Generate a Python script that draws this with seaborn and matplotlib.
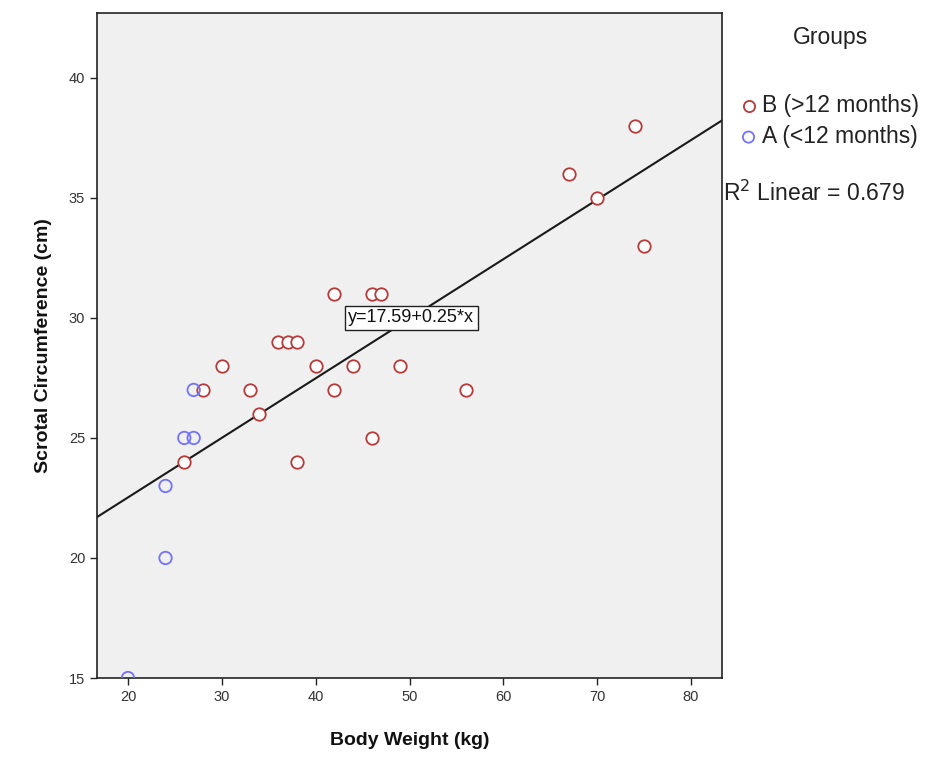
import numpy as np
import pandas as pd
import matplotlib
matplotlib.use("Agg")
import matplotlib.pyplot as plt
import seaborn as sns

# ---- data ----
b_weight = [26, 28, 30, 33, 34, 36, 37, 38, 38, 40, 42, 42, 44, 46, 47, 46, 49, 56, 67, 70, 74, 75]
b_scrotal = [24, 27, 28, 27, 26, 29, 29, 29, 24, 28, 31, 27, 28, 31, 31, 25, 28, 27, 36, 35, 38, 33]
a_weight = [20, 24, 24, 26, 27, 27]
a_scrotal = [15, 20, 23, 25, 25, 27]
group_b = "B (>12 months)"
group_a = "A (<12 months)"
equation_label = "y=17.59+0.25*x"
r2_label = "R$^2$ Linear = 0.679"
x_ticks = [20, 30, 40, 50, 60, 70, 80]
y_ticks = [15, 20, 25, 30, 35, 40]

df = pd.DataFrame({
    "weight": b_weight + a_weight,
    "scrotal": b_scrotal + a_scrotal,
    "group": [group_b] * len(b_weight) + [group_a] * len(a_weight),
})

sns.set_theme(style="white")
plt.rcParams["font.family"] = ["Liberation Sans", "DejaVu Sans"]

fig = plt.figure(figsize=(9.53, 7.65), dpi=100)
ax = fig.add_axes([0.1018, 0.1137, 0.6558, 0.8693])
ax.set_facecolor("#f0f0f0")
ax.set_xlim(16.7, 83.3)
ax.set_ylim(15, 42.7)

red = "#b73a3a"
blue = "#7272ff"

# regression line over all points
sns.regplot(data=df, x="weight", y="scrotal", scatter=False, ci=None,
            truncate=False, color="#1a1a1a", line_kws={"lw": 1.5, "zorder": 2}, ax=ax)

sns.scatterplot(data=df[df.group == group_b], x="weight", y="scrotal", ax=ax,
                s=80, facecolor="white", edgecolor=red, linewidth=1.3,
                label=group_b, zorder=3, clip_on=False)
sns.scatterplot(data=df[df.group == group_a], x="weight", y="scrotal", ax=ax,
                s=80, facecolor="none", edgecolor=blue, linewidth=1.3,
                label=group_a, zorder=3, clip_on=True)

ax.set_xlim(16.7, 83.3)
ax.set_ylim(15, 42.7)
ax.set_xticks(x_ticks)
ax.set_yticks(y_ticks)
ax.tick_params(axis="both", direction="out", length=5, width=1, color="#222222",
               labelsize=10.5, labelcolor="#333333", bottom=True, left=True)
for sp in ax.spines.values():
    sp.set_color("#222222")
    sp.set_linewidth(1.2)

ax.set_xlabel("Body Weight (kg)", fontsize=14, fontweight="bold", labelpad=20, color="#111111")
ax.set_ylabel("Scrotal Circumference (cm)", fontsize=14, fontweight="bold", labelpad=12, color="#111111")

ax.text(50.2, 30.0, equation_label, fontsize=13, ha="center", va="center", color="#111111",
        bbox=dict(boxstyle="square,pad=0.2", fc="white", ec="#222222", lw=1.0), zorder=4)

# legend
fig.text(0.871, 0.951, "Groups", fontsize=16.5, ha="center", va="center", color="#222222")
handles, labels = ax.get_legend_handles_labels()
leg = ax.legend(handles, labels, loc="upper left", bbox_to_anchor=(0.765, 0.889),
                bbox_transform=fig.transFigure, frameon=False, fontsize=16.5,
                handletextpad=0.15, borderaxespad=0, labelspacing=0.35,
                handlelength=0.9, markerscale=0.9, labelcolor="#222222")
fig.text(0.759, 0.747, r2_label, fontsize=16.5, ha="left", va="center", color="#222222")

fig.savefig("out.png", dpi=100, facecolor="white")
